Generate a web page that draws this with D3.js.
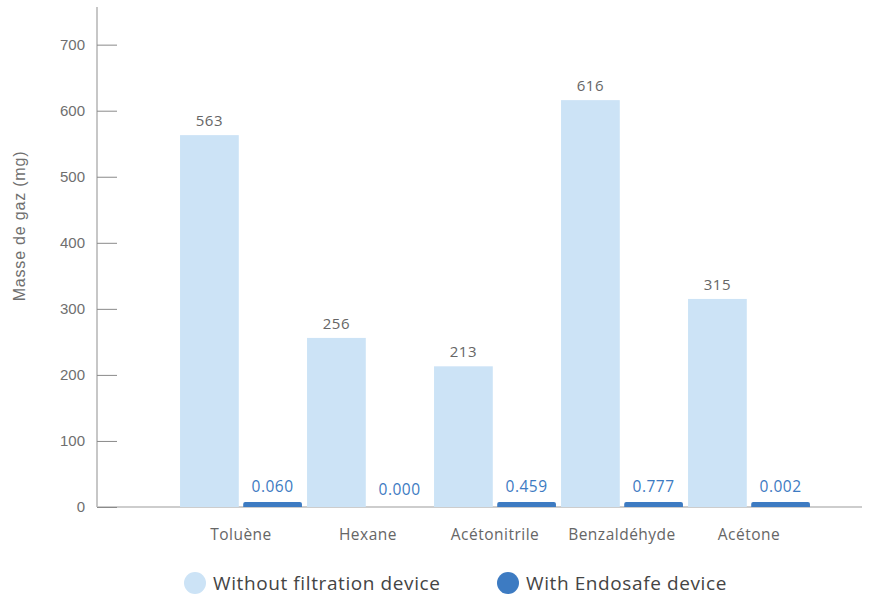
<!DOCTYPE html>
<html>
<head>
<meta charset="utf-8">
<script src="https://cdn.jsdelivr.net/npm/d3@7"></script>
<style>
  body { margin: 0; background: #fff; }
  svg { display: block; }
</style>
</head>
<body>
<svg id="chart"></svg>
<script>
// data
const categories = ["Toluène", "Hexane", "Acétonitrile", "Benzaldéhyde", "Acétone"];
const seriesNames = ["Without filtration device", "With Endosafe device"];
const withoutValues = [563, 256, 213, 616, 315];
const withValues = [0.060, 0.000, 0.459, 0.777, 0.002];
const withLabels = ["0.060", "0.000", "0.459", "0.777", "0.002"];
const yTicks = [0, 100, 200, 300, 400, 500, 600, 700];

const W = 877, H = 595;
const colorLight = "#cce3f6";
const colorDark = "#3d7bc2";

const svg = d3.select("#chart").attr("width", W).attr("height", H);

const y = d3.scaleLinear().domain([0, 757]).range([507, 7]);
const x = d3.scaleBand().domain(categories).range([177.5, 812.5])
  .paddingInner(0.04).paddingOuter(0.02);
const xSub = d3.scaleBand().domain([0, 1]).range([0, x.bandwidth()]).paddingInner(0.07);

// axes lines
svg.append("line").attr("x1", 97).attr("x2", 97).attr("y1", 7).attr("y2", 507)
  .attr("stroke", "#b5b5b5").attr("stroke-width", 1.5);
svg.append("line").attr("x1", 97).attr("x2", 862).attr("y1", 507).attr("y2", 507)
  .attr("stroke", "#bdbdbd").attr("stroke-width", 1.5);

// y axis ticks (drawn inward)
const yAxis = svg.append("g").attr("transform", "translate(97,0)")
  .call(d3.axisRight(y).tickValues(yTicks).tickSize(20).tickFormat(""));
yAxis.select(".domain").remove();
yAxis.selectAll(".tick line").attr("stroke", "#8a8a8a");

svg.append("g").selectAll("text").data(yTicks).join("text")
  .attr("x", 85).attr("y", d => y(d) + 5)
  .attr("text-anchor", "end")
  .attr("font-family", "Liberation Sans, Arial, sans-serif")
  .attr("font-size", 15).attr("fill", "#6f6f6f")
  .text(d => d);

// y axis title
svg.append("text")
  .attr("transform", "translate(25,226) rotate(-90)")
  .attr("text-anchor", "middle")
  .attr("font-family", "Liberation Sans, Arial, sans-serif")
  .attr("font-size", 16).attr("letter-spacing", 0.8).attr("fill", "#6f6f6f")
  .text("Masse de gaz (mg)");

const groups = svg.append("g").selectAll("g").data(categories).join("g")
  .attr("transform", d => `translate(${x(d)},0)`);

// light bars
groups.append("rect")
  .attr("x", xSub(0)).attr("width", xSub.bandwidth())
  .attr("y", (d, i) => y(withoutValues[i]))
  .attr("height", (d, i) => y(0) - y(withoutValues[i]))
  .attr("fill", colorLight);

groups.append("text")
  .attr("x", xSub(0) + xSub.bandwidth() / 2)
  .attr("y", (d, i) => y(withoutValues[i]) - 9)
  .attr("text-anchor", "middle")
  .attr("font-family", "Open Sans, sans-serif")
  .attr("font-size", 15).attr("letter-spacing", 0.5).attr("fill", "#666")
  .text((d, i) => withoutValues[i]);

// dark bars: tiny values, shown with a minimum visible height
const minH = 5;
groups.filter((d, i) => withValues[i] > 0).append("path")
  .attr("d", (d, i) => {
    const h = Math.max(y(0) - y(withValues[i]), minH);
    const x0 = xSub(1), w = xSub.bandwidth(), r = 2, yb = y(0);
    return `M${x0},${yb}V${yb - h + r}Q${x0},${yb - h} ${x0 + r},${yb - h}` +
      `H${x0 + w - r}Q${x0 + w},${yb - h} ${x0 + w},${yb - h + r}V${yb}Z`;
  })
  .attr("fill", colorDark);

groups.append("text")
  .attr("x", xSub(1) + xSub.bandwidth() / 2)
  .attr("y", (d, i) => withValues[i] > 0 ? y(0) - minH - 10 : y(0) - 12)
  .attr("text-anchor", "middle")
  .attr("font-family", "Open Sans, sans-serif")
  .attr("font-size", 15.5).attr("letter-spacing", 0.5).attr("fill", colorDark)
  .text((d, i) => withLabels[i]);

// category labels
groups.append("text")
  .attr("x", x.bandwidth() / 2)
  .attr("y", 540)
  .attr("text-anchor", "middle")
  .attr("font-family", "Open Sans, sans-serif")
  .attr("font-size", 15.5).attr("letter-spacing", 0.5).attr("fill", "#666")
  .text(d => d);

// legend
const legendX = [195, 508];
const legend = svg.append("g").selectAll("g").data(seriesNames).join("g")
  .attr("transform", (d, i) => `translate(${legendX[i]},583)`);
legend.append("circle").attr("r", 11)
  .attr("fill", (d, i) => i === 0 ? colorLight : colorDark);
legend.append("text")
  .attr("x", 18).attr("y", 6.5)
  .attr("font-family", "Open Sans, sans-serif")
  .attr("font-size", 19).attr("font-weight", 500).attr("letter-spacing", 0.6).attr("fill", "#444")
  .text(d => d);
</script>
</body>
</html>
